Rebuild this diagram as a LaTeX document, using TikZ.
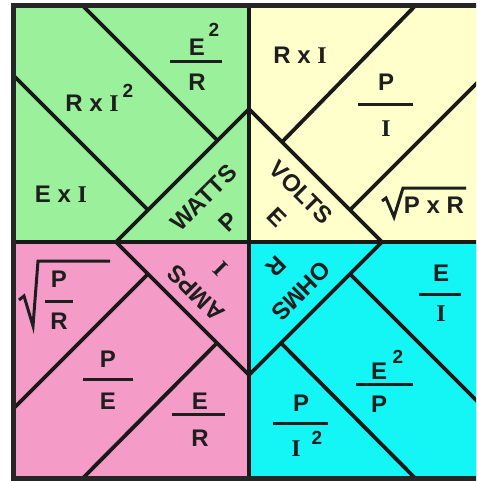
\documentclass[tikz,border=0pt]{standalone}
\usepackage{fontspec}
\setmainfont{Liberation Sans}
\newfontfamily\romfam{Liberation Serif}
\newcommand{\romI}{{\romfam\bfseries I}}
\definecolor{qgreen}{RGB}{155,240,155}
\definecolor{qyellow}{RGB}{255,255,204}
\definecolor{qpink}{RGB}{245,155,200}
\definecolor{qcyan}{RGB}{20,246,246}
\definecolor{txt}{RGB}{30,30,30}
\tikzset{
  lbl/.style={font=\fontsize{24}{24}\selectfont\bfseries, text=txt, inner sep=0pt},
  dia/.style={font=\fontsize{24}{35}\selectfont\bfseries, text=txt, inner sep=0pt, align=center},
  supl/.style={font=\fontsize{19}{19}\selectfont\bfseries, text=txt, inner sep=0pt},
  sepline/.style={line width=3.8pt, draw=black!90},
  border/.style={line width=5pt, draw=black!85},
  fbar/.style={line width=3pt, draw=txt},
  rad/.style={line width=3pt, draw=txt, line join=miter}
}
\begin{document}
\begin{tikzpicture}[x=1pt,y=-1pt]
\useasboundingbox (0,0) rectangle (476,481);
\begin{scope}
\clip (0,0) rectangle (476,481);
% quadrant fills
\fill[qgreen] (13,6) rectangle (249,242);
\fill[qyellow] (249,6) rectangle (490,242);
\fill[qpink] (13,242) rectangle (249,478);
\fill[qcyan] (249,242) rectangle (490,478);
% coordinates
\coordinate (C) at (249,242);
\coordinate (L) at (116,242);
\coordinate (T) at (249,109);
\coordinate (R) at (382,242);
\coordinate (B) at (249,375);
\coordinate (g1a) at (13,75);   \coordinate (g1b) at (148,210);
\coordinate (g2a) at (83,6);    \coordinate (g2b) at (217.5,140.5);
\coordinate (y1a) at (415,6);   \coordinate (y1b) at (282,142);
\coordinate (y2a) at (485,75);  \coordinate (y2b) at (350,210);
\coordinate (p1a) at (13,409);  \coordinate (p1b) at (148,274);
\coordinate (p2a) at (83,478);  \coordinate (p2b) at (217,343);
\coordinate (c1a) at (485,409); \coordinate (c1b) at (350,274);
\coordinate (c2a) at (415,478); \coordinate (c2b) at (281,343);
% dividers
\draw[sepline] (249,6) -- (249,478);
\draw[sepline] (13,242) -- (490,242);
% diamond
\draw[sepline, line join=miter] (L) -- (T) -- (R) -- (B) -- cycle;
% inner lines
\draw[sepline] (g1a) -- (g1b);
\draw[sepline] (g2a) -- (g2b);
\draw[sepline] (y1a) -- (y1b);
\draw[sepline] (y2a) -- (y2b);
\draw[sepline] (p1a) -- (p1b);
\draw[sepline] (p2a) -- (p2b);
\draw[sepline] (c1a) -- (c1b);
\draw[sepline] (c2a) -- (c2b);
% border
\draw[border] (490,6) -- (13,6) -- (13,478) -- (490,478);
\end{scope}

% ---------- green (WATTS)
\node[lbl] (gE) at (197,47) {E};
\node[supl] (gE2) at (214,30) {2};
\draw[fbar] (170,62) -- (222,62);
\node[lbl] (gR) at (197,82) {R};
\node[lbl] (gRI) at (92,103) {R x \romI};
\node[supl] (gRI2) at (128,91) {2};
\node[lbl] (gEI) at (61,194) {E x \romI};
\node[dia, rotate=45] (watts) at (216,210) {WATTS\\P};

% ---------- yellow (VOLTS)
\node[lbl] (yRI) at (300,55) {R x \romI};
\node[lbl] (yP) at (386,82) {P};
\draw[fbar] (358,105) -- (413,105);
\node[lbl] (yI) at (386,129) {\romI};
\draw[rad] (382,201) -- (386,198) -- (394,217) -- (403,188) -- (466,188);
\node[lbl] (yPR) at (434,205) {P x R};
\node[dia, rotate=-45] (volts) at (289,205) {VOLTS\\E};

% ---------- pink (AMPS)
\draw[rad] (19,300) -- (24,296) -- (33,326) -- (38,261) -- (110,261);
\node[lbl] (aP) at (59,279) {P};
\draw[fbar] (45,301) -- (73,301);
\node[lbl] (aR) at (59,321) {R};
\node[lbl] (aP2) at (108,359) {P};
\draw[fbar] (83,379) -- (133,379);
\node[lbl] (aE) at (108,401) {E};
\node[lbl] (aE2) at (200,401) {E};
\draw[fbar] (172,414) -- (225,414);
\node[lbl] (aR2) at (200,438) {R};
\node[dia, rotate=135] (amps) at (208,281) {AMPS\\\romI};

% ---------- cyan (OHMS)
\node[lbl] (oE) at (441,273) {E};
\draw[fbar] (419,294) -- (461,294);
\node[lbl] (oI) at (441,314) {\romI};
\node[lbl] (oE2) at (379,371) {E};
\node[supl] (oE2s) at (398,357) {2};
\draw[fbar] (356,384) -- (413,384);
\node[lbl] (oP) at (379,404) {P};
\node[lbl] (oP2) at (301,403) {P};
\draw[fbar] (273,423) -- (328,423);
\node[lbl] (oI2) at (296,449) {\romI};
\node[supl] (oI2s) at (317,438) {2};
\node[dia, rotate=225] (ohms) at (289,279) {OHMS\\R};
\end{tikzpicture}
\end{document}
